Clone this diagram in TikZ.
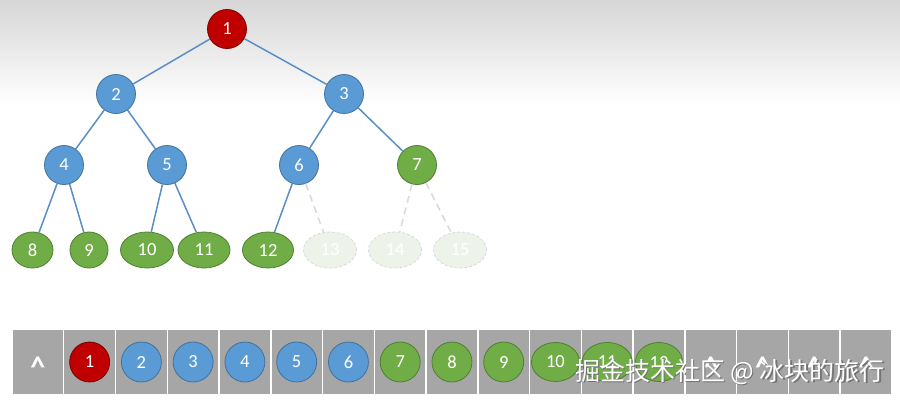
\documentclass[tikz,border=0pt]{standalone}
\usepackage{fontspec}
\setmainfont{Carlito}
\newfontfamily\cjk{Noto Sans CJK SC}
\usetikzlibrary{shapes.geometric}
\definecolor{nblue}{HTML}{5B9BD5}
\definecolor{nblueb}{HTML}{41719C}
\definecolor{nred}{HTML}{C00000}
\definecolor{nredb}{HTML}{7A0000}
\definecolor{ngreen}{HTML}{70AD47}
\definecolor{ngreenb}{HTML}{4F7F30}
\definecolor{edgec}{HTML}{5A8EC6}
\definecolor{cellg}{HTML}{A6A6A6}
\definecolor{ghostfill}{HTML}{EEF3EA}
\definecolor{ghostline}{HTML}{D9D9D9}
\tikzset{
  base/.style={draw, line width=0.8pt, text=white, inner sep=0pt,
    font=\fontsize{18.5}{18.5}\selectfont},
  rednode/.style={base, circle, fill=nred, draw=nredb, minimum size=39pt},
  bluenode/.style={base, circle, fill=nblue, draw=nblueb, minimum size=39pt},
  greennode/.style={base, circle, fill=ngreen, draw=ngreenb, minimum size=39pt},
  greenell/.style={base, ellipse, fill=ngreen, draw=ngreenb, minimum height=36pt, minimum width=#1},
  ghostnode/.style={base, ellipse, fill=ghostfill, draw=ghostline, dashed,
    dash pattern=on 3pt off 2pt, minimum height=36pt, minimum width=53pt},
  edge/.style={draw=edgec, line width=1.5pt},
  ghostedge/.style={draw=ghostline, line width=1.5pt, dash pattern=on 7pt off 5pt},
  cell/.style={draw=white, line width=1.4pt, fill=cellg, minimum width=51.76pt,
    minimum height=66pt, inner sep=0pt},
  caret/.style={text=white, font=\bfseries\fontsize{30}{30}\selectfont, inner sep=0pt, anchor=north},
  acircle/.style={minimum size=40pt},
  aell/.style={ellipse, minimum height=39pt, minimum width=#1},
}
\begin{document}
\begin{tikzpicture}[x=1pt,y=-1pt]
\useasboundingbox (0,0) rectangle (900,400);
\fill[white] (0,0) rectangle (900,400);
\shade[top color=black!16, bottom color=white] (0,0) rectangle (900,104);
% tree
\node[rednode] (n1) at (227,29) {1};
\node[bluenode] (n2) at (116,94) {2};
\node[bluenode] (n3) at (344,94) {3};
\node[bluenode] (n4) at (64,165) {4};
\node[bluenode] (n5) at (167,165) {5};
\node[bluenode] (n6) at (299,165) {6};
\node[greennode] (n7) at (417,165) {7};
\node[greenell=41pt] (n8) at (32.5,250) {8};
\node[greenell=38pt] (n9) at (89,250) {9};
\node[greenell=53pt] (n10) at (147,250) {10};
\node[greenell=52pt] (n11) at (204,250) {11};
\node[greenell=51pt] (n12) at (268,250) {12};
\node[ghostnode] (n13) at (330,250) {13};
\node[ghostnode] (n14) at (395,250) {14};
\node[ghostnode] (n15) at (460,250) {15};
\draw[edge] (n1) -- (n2);
\draw[edge] (n1) -- (n3);
\draw[edge] (n2) -- (n4);
\draw[edge] (n2) -- (n5);
\draw[edge] (n3) -- (n6);
\draw[edge] (n3) -- (n7);
\draw[edge] (n4) -- (n8);
\draw[edge] (n4) -- (n9);
\draw[edge] (n5) -- (n10);
\draw[edge] (n5) -- (n11);
\draw[edge] (n6) -- (n12);
\draw[ghostedge] (n6) -- (n13);
\draw[ghostedge] (n7) -- (n14);
\draw[ghostedge] (n7) -- (n15);
% array
\foreach \i in {0,...,16} {
  \node[cell] (c\i) at ({12+51.76*(\i+0.5)},362) {};
}
\foreach \i in {0,13,14,15,16} {
  \node[caret] (k\i) at ([yshift=5pt]c\i.center) {\textasciicircum};
}
\node[rednode, acircle] (a1) at (c1) {1};
\foreach \i in {2,...,6} { \node[bluenode, acircle] (a\i) at (c\i) {\i}; }
\foreach \i in {7,8,9} { \node[greennode, acircle] (a\i) at (c\i) {\i}; }
\node[greenell=48pt, aell=48pt] (a10) at (c10) {10};
\node[greenell=50pt, aell=50pt] (a11) at (c11) {11};
\node[greenell=47pt, aell=47pt] (a12) at (c12) {12};
% watermark
\node[text=black!55, font=\cjk\fontsize{25}{25}\selectfont] (wms) at (731.2,373.2) {掘金技术社区 @ 冰块的旅行};
\node[text=white, font=\cjk\fontsize{25}{25}\selectfont] (wm) at (730,372) {掘金技术社区 @ 冰块的旅行};
\end{tikzpicture}
\end{document}
